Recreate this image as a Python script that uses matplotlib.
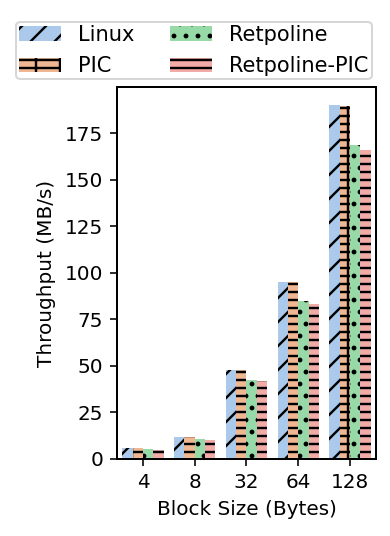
import matplotlib
matplotlib.use("Agg")
import matplotlib.pyplot as plt
import numpy as np
import seaborn as sns

sizes = ["4", "8", "32", "64", "128"]
linux = [5.9, 11.8, 47.7, 95.3, 190.4]
pic = [5.9, 11.8, 47.7, 95.0, 189.8]
retpoline = [5.2, 10.5, 42.4, 84.7, 168.9]
retpoline_pic = [5.0, 10.2, 41.7, 83.1, 166.0]

names = ["Linux", "PIC", "Retpoline", "Retpoline-PIC"]
series = [linux, pic, retpoline, retpoline_pic]
hatches = ["//", "+--", "..", "---"]

plt.rcParams["font.family"] = ["DejaVu Sans"]
plt.rcParams["font.size"] = 10
plt.rcParams["hatch.linewidth"] = 1.2
plt.rcParams["axes.linewidth"] = 1.0

colors = sns.color_palette("pastel", 4, desat=0.75)

fig = plt.figure(figsize=(390 / 144, 536 / 144), dpi=144)
ax = fig.add_axes([0.3, 0.1437, 0.664, 0.694])

x = np.arange(len(sizes))
w = 0.2
for i, (name, vals) in enumerate(zip(names, series)):
    ax.bar(x + (i - 1.5) * w, vals, w, color=colors[i], hatch=hatches[i],
           edgecolor="black", linewidth=0, label=name)

ax.set_xlim(-0.5, 4.5)
ax.set_ylim(0, 200)
ax.set_yticks(np.arange(0, 176, 25))
ax.set_xticks(x)
ax.set_xticklabels(sizes)
ax.set_xlabel("Block Size (Bytes)")
ax.set_ylabel("Throughput (MB/s)")

fig.legend(loc="upper center", bbox_to_anchor=(194 / 390, 1 - 11 / 536), ncol=2,
           fancybox=True, fontsize=10.5, borderpad=0.15, labelspacing=0.55,
           columnspacing=1.7)

fig.savefig("out.png", dpi=144)
